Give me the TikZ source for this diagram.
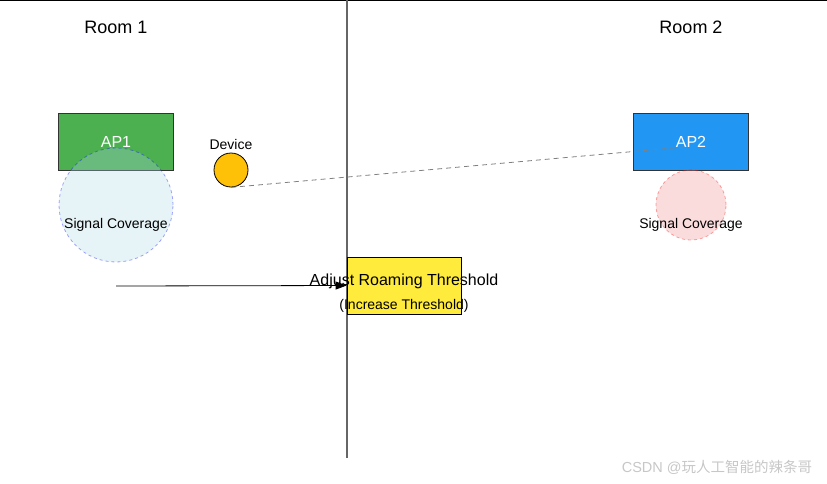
\documentclass[tikz,border=0pt]{standalone}
\usepackage{fontspec}
\setmainfont{Liberation Sans}
\newfontfamily\cjkfont{Noto Sans CJK SC}
\usepackage{tikz}
\usetikzlibrary{positioning, arrows.meta}
\definecolor{apgreen}{RGB}{76,175,80}
\definecolor{apblue}{RGB}{33,150,243}
\definecolor{devyellow}{RGB}{255,193,7}
\definecolor{boxyellow}{RGB}{255,235,59}
\definecolor{covblue}{RGB}{173,216,230}
\definecolor{covpink}{RGB}{240,140,140}
\definecolor{wallgray}{RGB}{102,102,102}
\tikzset{
  room/.style={font=\fontsize{18}{21}\selectfont},
  ap/.style={
    rectangle, draw=black!80, thick, minimum width=115pt, minimum height=57pt,
    text=white, font=\fontsize{16}{19}\selectfont
  },
  coverage/.style={
    circle, dashed, thick, inner sep=0pt, fill opacity=0.3, draw opacity=0.35
  },
  small/.style={font=\fontsize{14}{17}\selectfont},
  device/.style={circle, draw=black, thick, fill=devyellow, minimum size=34pt, inner sep=0pt},
  action/.style={rectangle, draw=black, thick, fill=boxyellow, minimum width=114pt, minimum height=57pt},
  wall/.style={draw=wallgray, line width=1.5pt},
  link/.style={draw=gray, thick, dash pattern=on 5pt off 4pt},
  watermark/.style={text=black!22, font=\fontsize{14.5}{17}\selectfont},
}

\begin{document}
\begin{tikzpicture}[x=1pt, y=-1pt]
  \useasboundingbox (0,0) rectangle (827,483);
  \draw[black, line width=2pt] (0,0) coordinate (topl) -- (827,0) coordinate (topr);
  \coordinate (walltop) at (347,0);
  \coordinate (wallbot) at (347,458);
  \draw[wall] (walltop) -- (wallbot);

  \node[room] (room1) at (116,27) {Room 1};
  \node[room] (room2) at (691,27) {Room 2};

  % room 1
  \node[ap, fill=apgreen] (ap1) at (116,141.5) {AP1};
  \node[coverage, fill=covblue, draw=blue, minimum size=114pt] (cov1) at (116,205) {};
  \node[small] (cov1lbl) at (116,224.5) {Signal Coverage};
  \node[device] (dev) at (231,170) {};
  \node[small] (devlbl) at (231,144.5) {Device};

  % room 2
  \node[ap, fill=apblue] (ap2) at (691,141.5) {AP2};
  \node[coverage, fill=covpink, draw=red, minimum size=70pt] (cov2) at (691,205) {};
  \node[small] (cov2lbl) at (691,224.5) {Signal Coverage};
  \coordinate (sig2) at (684,147);
  \draw[link] (dev.south) -- (sig2);

  % threshold
  \coordinate (start) at (116,286);
  \node[action] (adjust) at (404,285.5) {};
  \draw[thick, -{Triangle[length=11pt, width=8pt]}] (start) -- (adjust.west);
  \node[font=\fontsize{16}{19}\selectfont] (adjlbl) at (404,281.5) {Adjust Roaming Threshold};
  \node[small] (inclbl) at (404,305.5) {(Increase Threshold)};

  \node[watermark] (wm) at (717,467) {CSDN @{\cjkfont 玩人工智能的辣条哥}};
\end{tikzpicture}
\end{document}
